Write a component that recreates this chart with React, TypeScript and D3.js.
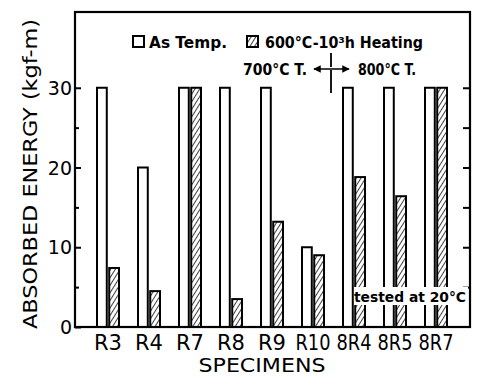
import React, { useEffect, useRef } from 'react';
import * as d3 from 'd3';

// specimens and absorbed energy (kgf-m)
const specimens = ['R3', 'R4', 'R7', 'R8', 'R9', 'R10', '8R4', '8R5', '8R7'];
const asTemp = [30, 20, 30, 30, 30, 10, 30, 30, 30];
const heated = [7.4, 4.5, 30, 3.5, 13.2, 9, 18.8, 16.4, 30];
const majorTicks = [0, 10, 20, 30];
const minorTicks = [5, 15, 25];

const FONT = '"DejaVu Sans", sans-serif';

export default function App() {
  const ref = useRef<SVGSVGElement>(null);

  useEffect(() => {
    const width = 479;
    const height = 376;
    const left = 75;
    const right = 470;
    const top = 12;
    const bottom = 327;

    const svg = d3.select(ref.current)
      .attr('width', width)
      .attr('height', height);
    svg.selectAll('*').remove();

    svg.append('rect').attr('width', width).attr('height', height).attr('fill', '#fff');

    const defs = svg.append('defs');
    defs.append('pattern')
      .attr('id', 'hatch')
      .attr('patternUnits', 'userSpaceOnUse')
      .attr('width', 4)
      .attr('height', 4)
      .attr('patternTransform', 'rotate(32)')
      .append('line')
      .attr('x1', 0).attr('y1', 0).attr('x2', 0).attr('y2', 4)
      .attr('stroke', '#000')
      .attr('stroke-width', 1.5);

    const x = d3.scaleBand<string>()
      .domain(specimens)
      .range([87.5, 456.5])
      .padding(0);

    const inner = d3.scaleBand<string>()
      .domain(['as', 'heat'])
      .range([x.bandwidth() / 2 - 11, x.bandwidth() / 2 + 11])
      .paddingInner(0.2);

    const y = d3.scaleLinear()
      .domain([0, 39.5])
      .range([bottom, top]);

    const rows = specimens.map((s, i) => ({ s, a: asTemp[i], h: heated[i] }));

    const g = svg.append('g');
    g.selectAll('rect.as')
      .data(rows)
      .join('rect')
      .attr('class', 'as')
      .attr('x', d => x(d.s)! + inner('as')!)
      .attr('y', d => y(d.a))
      .attr('width', inner.bandwidth())
      .attr('height', d => y(0) - y(d.a))
      .attr('fill', '#fff')
      .attr('stroke', '#000')
      .attr('stroke-width', 2);

    g.selectAll('rect.heat')
      .data(rows)
      .join('rect')
      .attr('class', 'heat')
      .attr('x', d => x(d.s)! + inner('heat')!)
      .attr('y', d => y(d.h))
      .attr('width', inner.bandwidth())
      .attr('height', d => y(0) - y(d.h))
      .attr('fill', 'url(#hatch)')
      .attr('stroke', '#000')
      .attr('stroke-width', 2);

    // frame
    svg.append('rect')
      .attr('x', left).attr('y', top)
      .attr('width', right - left).attr('height', bottom - top)
      .attr('fill', 'none')
      .attr('stroke', '#000')
      .attr('stroke-width', 2.2);

    const leftAxis = d3.axisRight(y).tickValues(majorTicks).tickSize(6).tickFormat(() => '');
    svg.append('g').attr('transform', `translate(${left},0)`).call(leftAxis)
      .call(a => a.select('.domain').remove())
      .call(a => a.selectAll('.tick line').attr('stroke-width', 2));
    svg.append('g').attr('transform', `translate(${left},0)`)
      .call(d3.axisRight(y).tickValues(minorTicks).tickSize(4).tickFormat(() => ''))
      .call(a => a.select('.domain').remove())
      .call(a => a.selectAll('.tick line').attr('stroke-width', 2));
    svg.append('g').attr('transform', `translate(${right},0)`)
      .call(d3.axisLeft(y).tickValues([...majorTicks, ...minorTicks].filter(v => v > 0)).tickSize(7).tickFormat(() => ''))
      .call(a => a.select('.domain').remove())
      .call(a => a.selectAll('.tick line').attr('stroke-width', 2));

    svg.append('g').selectAll('text')
      .data(majorTicks)
      .join('text')
      .attr('x', left - 3)
      .attr('y', d => y(d) + 7)
      .attr('text-anchor', 'end')
      .attr('font-family', FONT)
      .attr('font-size', 19)
      .text(d => d);

    svg.append('g').selectAll('text')
      .data(specimens)
      .join('text')
      .attr('x', d => x(d)! + x.bandwidth() / 2)
      .attr('y', 350)
      .attr('text-anchor', 'middle')
      .attr('font-family', FONT)
      .attr('font-size', 22)
      .attr('textLength', d => (d.length === 2 ? 28 : 35))
      .attr('lengthAdjust', 'spacingAndGlyphs')
      .text(d => d);

    svg.append('text')
      .attr('x', 262).attr('y', 372)
      .attr('text-anchor', 'middle')
      .attr('font-family', FONT)
      .attr('font-size', 20)
      .attr('textLength', 127)
      .attr('lengthAdjust', 'spacingAndGlyphs')
      .text('SPECIMENS');

    svg.append('text')
      .attr('transform', 'translate(37,174) rotate(-90)')
      .attr('text-anchor', 'middle')
      .attr('font-family', FONT)
      .attr('font-size', 20)
      .attr('textLength', 310)
      .attr('lengthAdjust', 'spacingAndGlyphs')
      .text('ABSORBED ENERGY (kgf-m)');

    // legend
    svg.append('rect').attr('x', 133).attr('y', 36).attr('width', 11).attr('height', 11)
      .attr('fill', '#fff').attr('stroke', '#000').attr('stroke-width', 2);
    svg.append('text').attr('x', 149).attr('y', 48)
      .attr('font-family', FONT).attr('font-weight', 'bold').attr('font-size', 15)
      .attr('textLength', 78).attr('lengthAdjust', 'spacingAndGlyphs')
      .text('As Temp.');
    svg.append('rect').attr('x', 247).attr('y', 36).attr('width', 11).attr('height', 11)
      .attr('fill', 'url(#hatch)').attr('stroke', '#000').attr('stroke-width', 2);
    svg.append('text').attr('x', 265).attr('y', 48)
      .attr('font-family', FONT).attr('font-weight', 'bold').attr('font-size', 15)
      .attr('textLength', 158).attr('lengthAdjust', 'spacingAndGlyphs')
      .text('600°C-10³h Heating');

    svg.append('text').attr('x', 243).attr('y', 75)
      .attr('font-family', FONT).attr('font-weight', 'bold').attr('font-size', 15)
      .attr('textLength', 64).attr('lengthAdjust', 'spacingAndGlyphs')
      .text('700°C T.');
    svg.append('text').attr('x', 358).attr('y', 75)
      .attr('font-family', FONT).attr('font-weight', 'bold').attr('font-size', 15)
      .attr('textLength', 58).attr('lengthAdjust', 'spacingAndGlyphs')
      .text('800°C T.');

    // divider arrow
    defs.append('marker')
      .attr('id', 'arr')
      .attr('viewBox', '0 0 10 10')
      .attr('refX', 9).attr('refY', 5)
      .attr('markerWidth', 5).attr('markerHeight', 5)
      .attr('orient', 'auto-start-reverse')
      .append('path').attr('d', 'M0,0L10,5L0,10z').attr('fill', '#000');
    svg.append('line').attr('x1', 314).attr('x2', 349).attr('y1', 69).attr('y2', 69)
      .attr('stroke', '#000').attr('stroke-width', 1.5)
      .attr('marker-start', 'url(#arr)').attr('marker-end', 'url(#arr)');
    svg.append('line').attr('x1', 331).attr('x2', 331).attr('y1', 53).attr('y2', 93)
      .attr('stroke', '#000').attr('stroke-width', 1.8)
      .attr('stroke-dasharray', '14,3,30');

    // note
    svg.append('rect').attr('x', 354).attr('y', 287).attr('width', 114).attr('height', 18)
      .attr('fill', '#fff');
    svg.append('text').attr('x', 354).attr('y', 302)
      .attr('font-family', FONT).attr('font-weight', 'bold').attr('font-size', 14)
      .attr('textLength', 112).attr('lengthAdjust', 'spacingAndGlyphs')
      .text('tested at 20°C');
  }, []);

  return <svg ref={ref} style={{ position: 'absolute', left: 0, top: 0 }} />;
}
